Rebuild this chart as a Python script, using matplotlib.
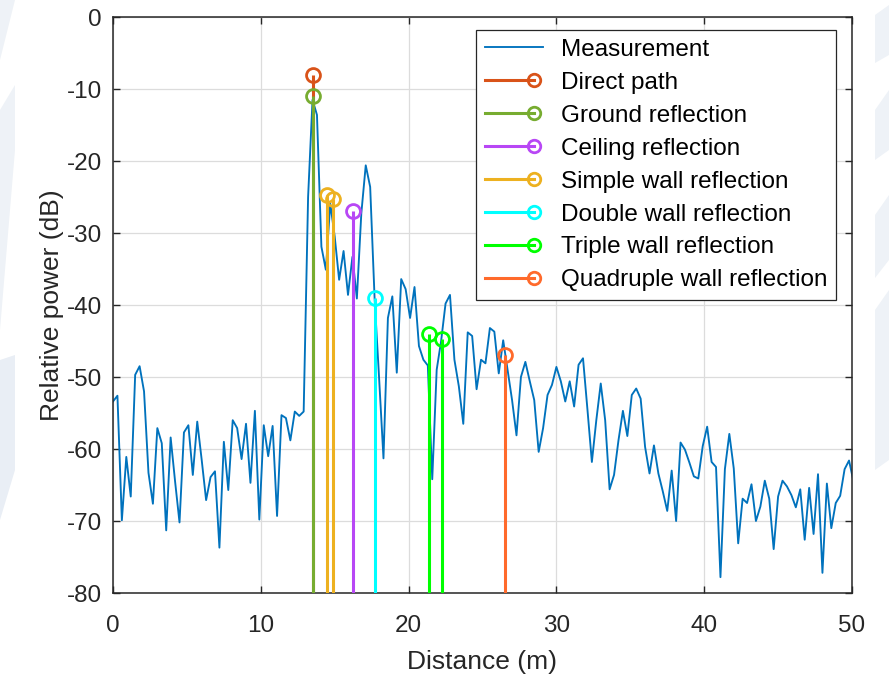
import numpy as np
import matplotlib
matplotlib.use("Agg")
import matplotlib.pyplot as plt
from matplotlib.lines import Line2D
from matplotlib.legend_handler import HandlerBase
from matplotlib.patches import Polygon

plt.rcParams['font.family'] = ['Liberation Sans', 'DejaVu Sans']
plt.rcParams['axes.unicode_minus'] = False

# ---------------- data ----------------
step_m = 0.3
measurement_db = [
    -53.4, -52.6, -69.9, -61.1, -66.6, -49.7, -48.5, -52.0, -63.3, -67.6,
    -57.1, -59.2, -71.3, -58.4, -64.5, -70.2, -57.7, -56.7, -63.6, -56.2,
    -61.5, -67.1, -63.9, -63.1, -73.7, -59.0, -65.7, -56.0, -57.1, -61.4,
    -56.5, -64.7, -54.7, -69.8, -56.7, -61.0, -56.8, -69.3, -55.3, -55.7,
    -58.8, -54.8, -55.4, -54.8, -25.0, -11.5, -13.6, -31.9, -35.1, -25.9,
    -30.5, -36.5, -32.5, -38.6, -33.3, -39.1, -27.3, -20.6, -23.6, -39.1,
    -50.0, -61.3, -41.8, -38.8, -49.4, -36.4, -37.8, -41.8, -37.5, -45.7,
    -47.6, -48.4, -64.2, -49.0, -45.0, -39.8, -38.6, -47.6, -51.3, -56.5,
    -43.8, -44.3, -51.7, -47.6, -48.1, -43.2, -43.7, -49.5, -44.9, -49.0,
    -53.2, -58.1, -50.0, -47.9, -50.6, -53.2, -60.4, -57.1, -52.5, -51.1,
    -48.6, -50.6, -53.4, -50.6, -54.1, -48.3, -47.4, -54.5, -61.8, -56.0,
    -50.9, -56.0, -65.6, -63.6, -58.8, -54.7, -58.2, -52.5, -51.6, -53.0,
    -59.7, -63.4, -59.5, -63.4, -65.9, -68.6, -63.0, -70.0, -59.1, -60.1,
    -61.9, -63.8, -64.1, -59.6, -56.9, -61.8, -62.5, -77.8, -62.8, -57.9,
    -62.7, -73.1, -66.9, -67.5, -64.9, -70.0, -68.0, -64.4, -66.9, -73.9,
    -66.6, -64.4, -65.2, -66.4, -68.1, -65.6, -72.6, -65.4, -71.8, -63.5,
    -77.2, -64.8, -71.0, -67.5, -66.5, -62.8, -61.6, -64.5,
]
distance_m = np.arange(len(measurement_db)) * step_m

path_names = ["Direct path", "Ground reflection", "Ceiling reflection",
              "Simple wall reflection", "Double wall reflection",
              "Triple wall reflection", "Quadruple wall reflection"]
path_dist = [[13.5], [13.5], [16.25], [14.45, 14.9], [17.72],
             [21.4, 22.28], [26.55]]
path_db = [[-8.0], [-11.0], [-27.0], [-24.7, -25.3], [-39.0],
           [-44.0, -44.7], [-46.9]]
path_colors = ["#D95319", "#77AC30", "#B847F5", "#EDB120", "#00FFFF",
               "#00FF00", "#FF6A2B"]

x_ticks = [0, 10, 20, 30, 40, 50]
y_ticks = [0, -10, -20, -30, -40, -50, -60, -70, -80]

# ---------------- figure ----------------
fig = plt.figure(figsize=(8.89, 6.77), dpi=100)
fig.patch.set_facecolor('white')

# faint background artwork
W, H = 889, 677
def fpoly(pts, color):
    fig.patches.append(Polygon([(x / W, 1 - y / H) for x, y in pts],
                               closed=True, transform=fig.transFigure,
                               facecolor=color, edgecolor='none', zorder=-10))
fpoly([(0, 0), (15, 0), (0, 60)], '#EEF2F7')
fpoly([(0, 110), (15, 85), (15, 150), (0, 330)], '#EEF2F7')
fpoly([(0, 360), (15, 355), (15, 470), (0, 520)], '#E9EEF5')
fpoly([(875, 15), (889, 5), (889, 55), (875, 63)], '#EEF2F7')
fpoly([(875, 110), (889, 90), (889, 150), (875, 160)], '#EEF2F7')
fpoly([(875, 215), (889, 195), (889, 260), (875, 278)], '#EEF2F7')
fpoly([(875, 310), (889, 290), (889, 460), (875, 470)], '#EEF2F7')

ax = fig.add_axes([113 / W, 1 - 593 / H, (852 - 113) / W, (593 - 17) / H])

ax.plot(distance_m, measurement_db, color='#0072BD', lw=1.35, zorder=2,
        label='Measurement')

for name, xs, ys, c in zip(path_names, path_dist, path_db, path_colors):
    ml, sl, bl = ax.stem(xs, ys, bottom=-80)
    plt.setp(sl, color=c, linewidth=2.2, zorder=3)
    plt.setp(ml, marker='o', markersize=10, markerfacecolor='none',
             markeredgecolor=c, markeredgewidth=2.0, zorder=4)
    bl.set_visible(False)

ax.set_xlim(0, 50)
ax.set_ylim(-80, 0)
ax.set_xticks(x_ticks)
ax.set_yticks(y_ticks)
ax.set_xticklabels([str(t) for t in x_ticks])
ax.set_yticklabels([str(t) for t in y_ticks])
ax.grid(True, color='#DCDCDC', lw=0.9)
ax.set_axisbelow(True)
ax.tick_params(direction='in', top=True, right=True, length=5, width=1,
               labelsize=17.5, colors='#262626')
ax.tick_params(axis='x', pad=16)
ax.tick_params(axis='y', pad=8)
for s in ax.spines.values():
    s.set_color('#262626')
    s.set_linewidth(1.1)
ax.set_xlabel('Distance (m)', fontsize=19, color='#262626', labelpad=9)
ax.set_ylabel('Relative power (dB)', fontsize=19, color='#262626', labelpad=2)


class StemLegendHandler(HandlerBase):
    def create_artists(self, legend, orig_handle, xdescent, ydescent,
                       width, height, fontsize, trans):
        c = orig_handle.get_color()
        y = height / 2 - ydescent
        x0, x1 = -xdescent, width - xdescent
        r = 7
        line = Line2D([x0, x1 - r], [y, y], color=c, lw=2.2, transform=trans)
        mk = Line2D([x1 - r], [y], marker='o', ms=9, mfc='none', mec=c,
                    mew=2.0, ls='none', transform=trans)
        return [line, mk]


handles = [Line2D([], [], color='#0072BD', lw=1.35)]
handler_map = {}
for c in path_colors:
    h = Line2D([], [], color=c)
    handles.append(h)
    handler_map[h] = StemLegendHandler()
labels = ['Measurement'] + path_names

leg = ax.legend(handles, labels, handler_map=handler_map, loc='upper right',
                bbox_to_anchor=(0.979, 0.977), borderaxespad=0, fontsize=17.5,
                frameon=True, fancybox=False, framealpha=1, edgecolor='#262626',
                handlelength=2.4, handletextpad=0.75, labelspacing=0.45,
                borderpad=0.35)
leg.get_frame().set_linewidth(0.9)
for t in leg.get_texts():
    t.set_color('black')

fig.savefig('out.png', dpi=100)
